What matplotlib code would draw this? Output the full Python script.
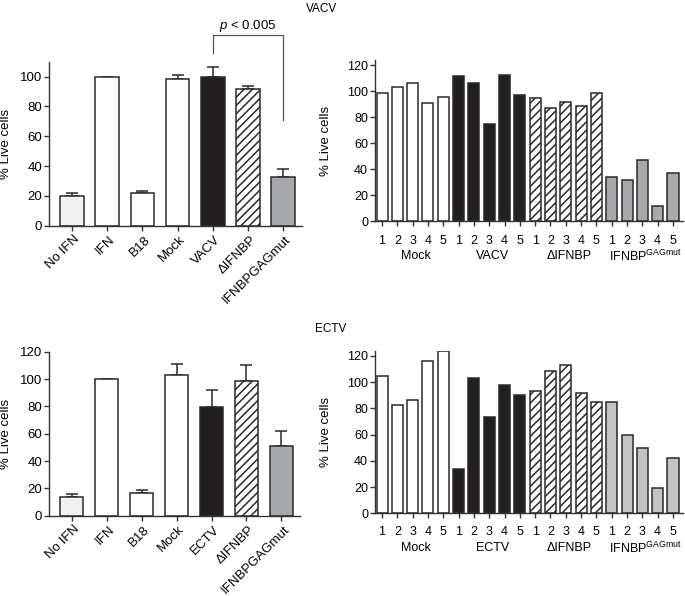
import matplotlib
matplotlib.use("Agg")
import matplotlib.pyplot as plt
import matplotlib.transforms as mtransforms
import numpy as np

plt.rcParams['font.family'] = ['Liberation Sans', 'DejaVu Sans']
plt.rcParams['mathtext.fontset'] = 'custom'
plt.rcParams['mathtext.rm'] = 'Liberation Sans'
plt.rcParams['mathtext.it'] = 'Liberation Sans:italic'
plt.rcParams['hatch.linewidth'] = 1.1
plt.rcParams['font.size'] = 8.5

# -------------------------------
# DATA
# -------------------------------
vacv_cats = ['No IFN', 'IFN', 'B18', 'Mock', 'VACV', '\u0394IFNBP', 'IFNBPGAGmut']
vacv_means = [20, 100, 22, 98.5, 100, 91.5, 32.5]
vacv_err = [1.8, 0, 1, 2.6, 6.7, 1.9, 5.6]

ectv_cats = ['No IFN', 'IFN', 'B18', 'Mock', 'ECTV', '\u0394IFNBP', 'IFNBPGAGmut']
ectv_means = [14, 100, 16.5, 103, 79.5, 98.5, 51]
ectv_err = [2, 0, 2.3, 8, 12.5, 11.5, 11]

groups_vacv = ['Mock', 'VACV', '\u0394IFNBP', r'IFNBP$^{\mathrm{GAGmut}}$']
groups_ectv = ['Mock', 'ECTV', '\u0394IFNBP', r'IFNBP$^{\mathrm{GAGmut}}$']
mouse_ids = ['1', '2', '3', '4', '5']

vacv_mock = [99, 103, 106, 91, 95.5]
vacv_vacv = [112, 106, 75, 112.5, 97]
vacv_dIFNBP = [94.5, 87.5, 91.5, 88.5, 98.5]
vacv_gag = [34, 32, 47, 12, 37]

ectv_mock = [105, 82.5, 86.5, 116, 124]
ectv_ectv = [33.5, 103, 73.5, 97.5, 90]
ectv_dIFNBP = [93, 108.5, 113, 92, 85]
ectv_gag = [85, 60, 50, 19, 42]

EDGE = '#2a2a2a'
BLACK = '#231f20'
GREY = '#a7a9ac'
GREY_LIGHT = '#c2c3c5'
NOIFN = '#f2f2f2'


def style_axes(ax, size):
    for side in ['top', 'right']:
        ax.spines[side].set_visible(False)
    for side in ['left', 'bottom']:
        ax.spines[side].set_color('#333333')
        ax.spines[side].set_linewidth(1.0)
    ax.tick_params(direction='out', length=3.5, width=1.0, color='#333333',
                   labelsize=size, pad=1.5)


def summary_panel(fig, ax, cats, means, err, ylim, yticks):
    x = np.arange(len(cats))
    colors = [NOIFN, 'white', 'white', 'white', BLACK, 'white', GREY]
    hatches = ['', '', '', '', '', '////', '']
    bars = ax.bar(x, means, width=0.67, color=colors, edgecolor=EDGE, linewidth=1.1, zorder=2)
    for b, h in zip(bars, hatches):
        b.set_hatch(h)
    yerr = [np.zeros(len(err)), err]
    ax.errorbar(x, means, yerr=yerr, fmt='none', ecolor=EDGE, elinewidth=1.1,
                capsize=4, capthick=1.1, zorder=1)
    ax.set_xlim(-0.65, len(cats) - 0.47)
    ax.set_ylim(*ylim)
    ax.set_yticks(yticks)
    ax.set_xticks(x)
    style_axes(ax, 9.5)
    ax.set_xticklabels(cats, rotation=45, ha='right', va='center',
                       rotation_mode='anchor', fontsize=9.5)
    shift = mtransforms.ScaledTranslation(0.06, -0.05, fig.dpi_scale_trans)
    for lab in ax.get_xticklabels():
        lab.set_transform(lab.get_transform() + shift)
    ax.set_ylabel('% Live cells', fontsize=9.5)
    ax.yaxis.set_label_coords(-0.147, 0.5)


def mice_panel(ax, groups, series, gag_color):
    vals = [v for s in series for v in s]
    x = np.arange(len(vals))
    colors = ['white'] * 5 + [BLACK] * 5 + ['white'] * 5 + [gag_color] * 5
    hatches = [''] * 10 + ['////'] * 5 + [''] * 5
    bars = ax.bar(x, vals, width=0.72, color=colors, edgecolor=EDGE, linewidth=1.1, zorder=2)
    for b, h in zip(bars, hatches):
        b.set_hatch(h)
    ax.set_xlim(-0.46, len(vals) - 0.35)
    ax.set_ylim(0, 124)
    ax.set_yticks([0, 20, 40, 60, 80, 100, 120])
    ax.set_xticks(x)
    ax.set_xticklabels(mouse_ids * 4)
    style_axes(ax, 9)
    ax.tick_params(axis='x', pad=6, labelsize=9)
    for i, g in enumerate(groups):
        ax.annotate(g, xy=(i * 5 + 2.2, 0), xycoords=('data', 'axes fraction'),
                    xytext=(0, -25), textcoords='offset points',
                    ha='center', va='center', fontsize=9)
    ax.set_ylabel('% Live cells', fontsize=9.5)
    ax.yaxis.set_label_coords(-0.14, 0.5)


fig = plt.figure(figsize=(6.85, 5.96), dpi=100)

ax1 = fig.add_axes([0.0715, 0.6213, 0.3693, 0.2752])
summary_panel(fig, ax1, vacv_cats, vacv_means, vacv_err, (0, 110), [0, 20, 40, 60, 80, 100])

# significance bracket VACV vs IFNBPGAGmut
ax1.plot([4, 4, 6, 6], [116, 128, 128, 71], color='#555555', lw=0.9, clip_on=False)
ax1.text(5, 134, r'$p$ < 0.005', ha='center', va='center', fontsize=9.5)

ax2 = fig.add_axes([0.5474, 0.6284, 0.4496, 0.2709])
mice_panel(ax2, groups_vacv, [vacv_mock, vacv_vacv, vacv_dIFNBP, vacv_gag], GREY)

ax3 = fig.add_axes([0.0715, 0.1347, 0.3664, 0.2752])
summary_panel(fig, ax3, ectv_cats, ectv_means, ectv_err, (0, 120), [0, 20, 40, 60, 80, 100, 120])

ax4 = fig.add_axes([0.5474, 0.1388, 0.4496, 0.2728])
mice_panel(ax4, groups_ectv, [ectv_mock, ectv_ectv, ectv_dIFNBP, ectv_gag], GREY_LIGHT)

fig.text(322 / 685, 1 - 9 / 596, 'VACV', ha='center', va='center', fontsize=8.5)
fig.text(331 / 685, 1 - 329 / 596, 'ECTV', ha='center', va='center', fontsize=8.5)

fig.savefig('out.png', dpi=100)
